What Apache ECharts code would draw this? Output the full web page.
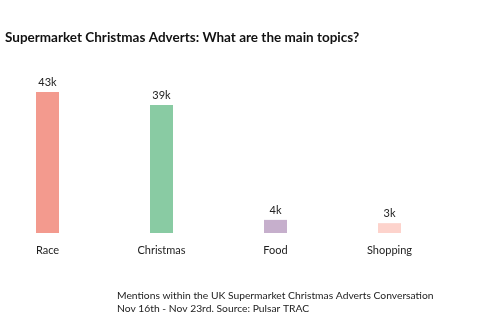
<!DOCTYPE html>
<html><head><meta charset="utf-8">
<script src="https://cdn.jsdelivr.net/npm/echarts@6/dist/echarts.min.js"></script>
<style>html,body{margin:0;padding:0;background:#fff}#c{width:500px;height:330px}</style>
</head><body><div id="c"></div>
<script>
const categories = ["Race", "Christmas", "Food", "Shopping"];
const values = [43, 39, 4, 3];
const colors = ["#F39A8E", "#89CBA3", "#C6AFCC", "#FDD3CC"];
const titleText = "Supermarket Christmas Adverts: What are the main topics?";
const noteLines = ["Mentions within the UK Supermarket Christmas Adverts Conversation", "Nov 16th - Nov 23rd. Source: Pulsar TRAC"];

const chart = echarts.init(document.getElementById('c'));
chart.setOption({
  animation: false,
  title: [{
    text: titleText, left: 0, top: 26,
    textStyle: {fontFamily: 'Lato', fontWeight: 'bold', fontSize: 13.5, color: '#111'}
  }, {
    text: noteLines.join('\n'), left: 112, top: 284,
    textStyle: {fontFamily: 'Lato', fontWeight: 'normal', fontSize: 10.3, color: '#222', lineHeight: 13}
  }],
  grid: {left: 47.5, right: 110.5, top: 69, bottom: 97},
  xAxis: {
    type: 'category', data: categories, boundaryGap: false,
    axisLine: {show: false}, axisTick: {show: false},
    axisLabel: {margin: 12, fontFamily: 'Lato', fontSize: 11, color: '#222', interval: 0}
  },
  yAxis: {type: 'value', min: 0, max: 50, show: false, splitLine: {show: false}},
  series: [{
    type: 'bar', barWidth: 23,
    data: values.map((v, i) => ({value: v, itemStyle: {color: colors[i]}})),
    label: {show: true, position: 'top', distance: 4, formatter: p => p.value + 'k',
      fontFamily: 'Lato', fontSize: 11, color: '#222'}
  }]
});
</script></body></html>
